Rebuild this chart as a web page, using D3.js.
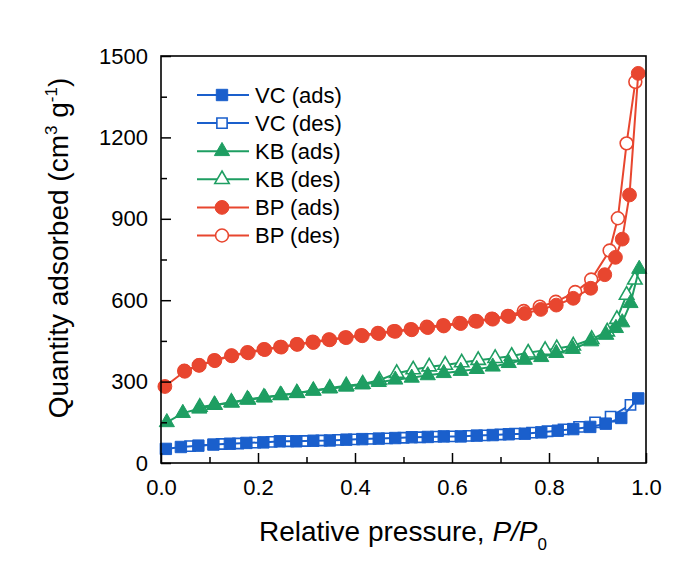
<!DOCTYPE html>
<html><head><meta charset="utf-8">
<script src="https://cdn.jsdelivr.net/npm/d3@7"></script>
<style>
body{margin:0;background:#fff}
svg{display:block}
text{font-family:"Liberation Sans",Arial,sans-serif;fill:#000}
</style>
</head><body>
<svg id="chart" width="674" height="579"></svg>
<script>
// ---- data ----
const vcAdsP = [0.010,0.041,0.077,0.108,0.142,0.176,0.211,0.245,0.279,0.314,0.348,0.382,0.415,0.449,0.483,0.517,0.550,0.583,0.618,0.651,0.684,0.717,0.750,0.784,0.818,0.850,0.885,0.917,0.949,0.984];
const vcAdsQ = [52,59,64,68,71,74,76,80,80,82,83,86,88,90,92,95,96,98,98,101,103,106,108,113,119,125,133,145,166,238];
const vcDesP = [0.968,0.927,0.895,0.862,0.830,0.797,0.765,0.730,0.700,0.667,0.634,0.600,0.567,0.534,0.500,0.466,0.432,0.398,0.365,0.331,0.297,0.262,0.228,0.194,0.159,0.125,0.060];
const vcDesQ = [214,171,150,133,124,117,112,108,105,102,100,98,97,95,93,91,89,87,85,83,81,80,78,75,72,70,62];

const kbAdsP = [0.012,0.045,0.079,0.111,0.146,0.180,0.214,0.248,0.281,0.314,0.348,0.382,0.415,0.449,0.483,0.517,0.550,0.583,0.618,0.651,0.684,0.717,0.750,0.784,0.815,0.849,0.887,0.918,0.938,0.951,0.968,0.986];
const kbAdsQ = [150,184,200,214,222,233,241,250,257,266,274,281,289,298,307,314,323,331,339,346,355,368,380,390,405,420,448,472,497,518,589,715];
const kbDesP = [0.977,0.960,0.940,0.920,0.888,0.850,0.816,0.792,0.757,0.723,0.689,0.654,0.620,0.586,0.553,0.520,0.486,0.450,0.416,0.382,0.348,0.314,0.280,0.246,0.212,0.178,0.145,0.110,0.080];
const kbDesQ = [675,619,530,484,456,432,422,416,406,394,386,379,370,361,355,344,331,305,291,285,276,267,258,250,242,234,224,214,206];

const bpAdsP = [0.008,0.049,0.079,0.111,0.146,0.180,0.214,0.248,0.281,0.314,0.348,0.382,0.415,0.449,0.483,0.517,0.550,0.583,0.618,0.651,0.684,0.717,0.750,0.783,0.815,0.850,0.886,0.915,0.937,0.951,0.966,0.984];
const bpAdsQ = [282,338,360,377,395,406,418,427,437,444,454,462,469,477,485,491,499,505,514,522,530,540,551,566,582,607,644,694,758,825,988,1436];
const bpDesP = [0.978,0.960,0.942,0.925,0.887,0.854,0.814,0.781,0.748,0.715,0.682,0.648,0.615,0.582,0.548,0.515,0.480,0.447,0.413,0.380,0.346,0.313,0.280,0.246,0.212,0.178,0.145,0.110,0.078,0.048];
const bpDesQ = [1405,1178,902,783,676,630,594,576,560,542,532,523,516,508,502,493,486,479,471,463,455,447,438,428,419,408,396,379,360,340];

const seriesNames = ["VC (ads)","VC (des)","KB (ads)","KB (des)","BP (ads)","BP (des)"];
const xTicks = [0,0.2,0.4,0.6,0.8,1.0];
const xMinorTicks = [0.1,0.3,0.5,0.7,0.9];
const yTicks = [0,300,600,900,1200,1500];
const yMinorTicks = [150,450,750,1050,1350];

// ---- styles ----
const BLUE = "#1a5fcc", GREEN = "#1e9e62", RED = "#e8462f";
const series = [
  {name:seriesNames[0], P:vcAdsP, Q:vcAdsQ, color:BLUE,  sym:d3.symbolSquare,   size:130, open:false},
  {name:seriesNames[1], P:vcDesP, Q:vcDesQ, color:BLUE,  sym:d3.symbolSquare,   size:105, open:true},
  {name:seriesNames[2], P:kbAdsP, Q:kbAdsQ, color:GREEN, sym:d3.symbolTriangle, size:100, open:false},
  {name:seriesNames[3], P:kbDesP, Q:kbDesQ, color:GREEN, sym:d3.symbolTriangle, size:90,  open:true},
  {name:seriesNames[4], P:bpAdsP, Q:bpAdsQ, color:RED,   sym:d3.symbolCircle,   size:150, open:false},
  {name:seriesNames[5], P:bpDesP, Q:bpDesQ, color:RED,   sym:d3.symbolCircle,   size:130, open:true}
];

const svg = d3.select("#chart");
const L = 161, R = 646, T = 56, B = 463;
const x = d3.scaleLinear().domain([0,1]).range([L,R]);
const y = d3.scaleLinear().domain([0,1500]).range([B,T]);

svg.append("rect").attr("width",674).attr("height",579).attr("fill","#fff");

// data
const line = d3.line().x(d=>x(d[0])).y(d=>y(d[1]));
const drawOrder = [1,0,3,2,5,4];
drawOrder.forEach(i=>{
  const s = series[i];
  const pts = s.P.map((p,k)=>[p,s.Q[k]]);
  const g = svg.append("g");
  g.append("path").attr("d",line(pts)).attr("fill","none")
    .attr("stroke",s.color).attr("stroke-width",2);
  g.selectAll("path.m").data(pts).join("path").attr("class","m")
    .attr("transform",d=>`translate(${x(d[0])},${y(d[1])})`)
    .attr("d",d3.symbol().type(s.sym).size(s.size))
    .attr("fill",s.open?"#fff":s.color)
    .attr("stroke",s.color).attr("stroke-width",s.open?1.6:1);
});

// axes
const fs = 22;
const xAx = svg.append("g").attr("transform",`translate(0,${B})`)
  .call(d3.axisBottom(x).tickValues(xTicks).tickFormat(d3.format(".1f")).tickSize(-10).tickPadding(16));
const xMin = svg.append("g").attr("transform",`translate(0,${B})`)
  .call(d3.axisBottom(x).tickValues(xMinorTicks).tickFormat("").tickSize(-6));
const yAx = svg.append("g").attr("transform",`translate(${L},0)`)
  .call(d3.axisLeft(y).tickValues(yTicks).tickFormat(d3.format("d")).tickSize(-10).tickPadding(13));
const yMin = svg.append("g").attr("transform",`translate(${L},0)`)
  .call(d3.axisLeft(y).tickValues(yMinorTicks).tickFormat("").tickSize(-6));
[xAx,xMin,yAx,yMin].forEach(a=>{
  a.select(".domain").remove();
  a.selectAll("line").attr("stroke","#000").attr("stroke-width",1.5);
  a.selectAll("text").attr("font-size",fs).attr("font-family",'"Liberation Sans",Arial,sans-serif').attr("fill","#000");
});
svg.append("rect").attr("x",L).attr("y",T).attr("width",R-L).attr("height",B-T)
  .attr("fill","none").attr("stroke","#000").attr("stroke-width",1.6);

// legend
const lg = svg.append("g");
series.forEach((s,i)=>{
  const ly = 95 + i*28.1;
  lg.append("line").attr("x1",197).attr("x2",249).attr("y1",ly).attr("y2",ly)
    .attr("stroke",s.color).attr("stroke-width",2);
  lg.append("path").attr("transform",`translate(222,${ly})`)
    .attr("d",d3.symbol().type(s.sym).size(s.size))
    .attr("fill",s.open?"#fff":s.color).attr("stroke",s.color).attr("stroke-width",s.open?1.6:1);
  lg.append("text").attr("x",255).attr("y",ly).attr("dy","0.36em")
    .attr("font-size",fs).text(s.name);
});

// axis titles
const xt = svg.append("text").attr("x",403).attr("y",541).attr("text-anchor","middle").attr("font-size",28);
xt.append("tspan").text("Relative pressure, ");
xt.append("tspan").attr("font-style","italic").text("P/P");
xt.append("tspan").attr("font-size",17).attr("dy",9).text("0");

const yt = svg.append("text").attr("transform","translate(68,248) rotate(-90)")
  .attr("text-anchor","middle").attr("font-size",28);
yt.append("tspan").text("Quantity adsorbed (cm");
yt.append("tspan").attr("font-size",17).attr("dy",-11).text("3");
yt.append("tspan").attr("dy",11).text(" g");
yt.append("tspan").attr("font-size",17).attr("dy",-11).text("-1");
yt.append("tspan").attr("dy",11).text(")");
</script>
</body></html>
